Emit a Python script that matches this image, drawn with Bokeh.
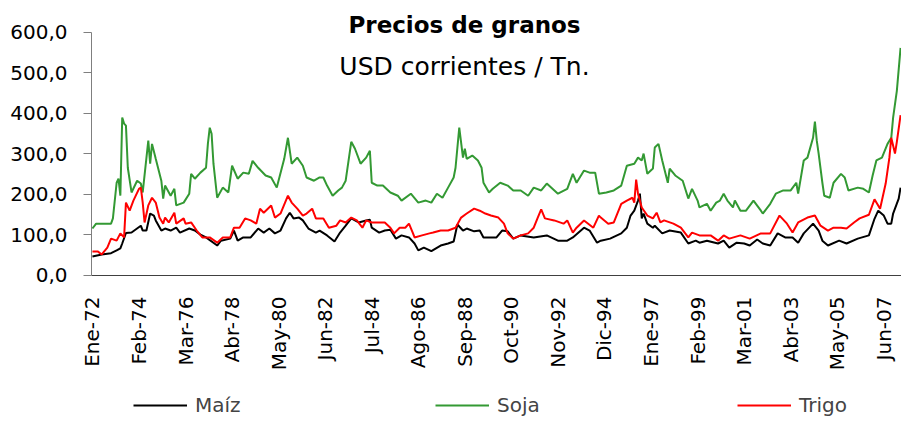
import math
from bokeh.plotting import figure
from bokeh.models import FixedTicker, Legend, LegendItem, Label, Range1d
from bokeh.embed import file_html
from bokeh.resources import INLINE

FONT = "DejaVu Sans"

# ---- axis ticks (x = months since Ene-72) ----
tick_months = [0, 25, 50, 75, 100, 125, 150, 175, 200, 225, 250, 275, 300, 325, 350, 375, 400, 425]
tick_labels = ["Ene-72", "Feb-74", "Mar-76", "Abr-78", "May-80", "Jun-82", "Jul-84", "Ago-86", "Sep-88",
               "Oct-90", "Nov-92", "Dic-94", "Ene-97", "Feb-99", "Mar-01", "Abr-03", "May-05", "Jun-07"]
y_ticks = [0, 100, 200, 300, 400, 500, 600]
y_labels = ["0,0", "100,0", "200,0", "300,0", "400,0", "500,0", "600,0"]
n_months = 435  # Ene-72 .. Mar-08

# ---- Maíz ----
maiz_m = [0, 5, 10, 13, 15, 16, 18, 21, 26, 27,
          29, 31, 33, 34, 37, 39, 42, 45, 47, 52,
          55, 58, 61, 67, 69, 74, 76, 78, 81, 85,
          89, 92, 95, 98, 101, 104, 106, 108, 111, 113,
          116, 120, 122, 126, 130, 133, 136, 139, 143, 147,
          149, 150, 154, 157, 160, 163, 166, 170, 173, 175,
          178, 182, 187, 191, 194, 196, 199, 201, 205, 208,
          210, 217, 220, 223, 226, 230, 237, 244, 250, 255,
          258, 264, 267, 271, 273, 278, 284, 287, 289, 291,
          293, 294, 295, 296, 298, 301, 302, 306, 310, 316,
          320, 324, 326, 330, 336, 339, 342, 346, 350, 353,
          357, 360, 364, 368, 372, 376, 379, 382, 387, 390,
          392, 395, 401, 405, 411, 417, 420, 422, 425, 427,
          429, 430, 433, 434]
maiz_v = [47, 52, 55, 62, 67, 79, 105, 106, 123, 111,
          111, 153, 148, 136, 111, 116, 111, 118, 106, 116,
          111, 101, 94, 74, 86, 91, 111, 86, 94, 94,
          116, 106, 116, 104, 111, 141, 155, 141, 143, 136,
          116, 106, 111, 99, 84, 106, 123, 141, 131, 136,
          138, 118, 106, 111, 113, 91, 99, 94, 79, 62,
          69, 60, 74, 79, 84, 126, 111, 116, 109, 111,
          94, 94, 111, 109, 91, 99, 94, 99, 86, 86,
          94, 118, 111, 81, 86, 91, 104, 118, 148, 160,
          185, 202, 141, 153, 128, 118, 123, 104, 111, 106,
          79, 86, 81, 86, 79, 86, 69, 81, 79, 74,
          89, 79, 74, 104, 94, 94, 81, 104, 128, 111,
          86, 74, 86, 79, 91, 99, 140, 160, 148, 128,
          128, 153, 190, 217]

# ---- Soja ----
soja_m = [0, 2, 10, 11, 13, 14, 15, 16, 17, 18,
          19, 21, 24, 26, 27, 30, 31, 32, 34, 37,
          38, 39, 42, 44, 45, 49, 52, 53, 55, 58,
          61, 62, 63, 64, 65, 67, 70, 73, 75, 78,
          81, 84, 86, 89, 93, 96, 99, 103, 105, 107,
          110, 113, 115, 119, 122, 124, 126, 129, 132, 134,
          136, 139, 141, 144, 147, 149, 150, 153, 156, 160,
          164, 166, 171, 175, 179, 182, 185, 188, 191, 194,
          195, 197, 199, 200, 201, 204, 207, 209, 210, 213,
          215, 219, 223, 226, 230, 234, 237, 241, 244, 250,
          255, 258, 260, 264, 267, 270, 272, 276, 280, 284,
          287, 291, 293, 295, 296, 298, 301, 302, 304, 306,
          309, 310, 313, 317, 320, 322, 325, 326, 330, 332,
          335, 337, 339, 341, 344, 345, 348, 351, 355, 359,
          360, 364, 367, 371, 375, 378, 379, 382, 384, 387,
          388, 389, 390, 392, 393, 396, 398, 402, 404, 406,
          411, 414, 417, 419, 421, 424, 427, 429, 430, 432,
          434]
soja_v = [116, 128, 128, 141, 229, 239, 197, 390, 375, 370,
          266, 205, 234, 227, 205, 333, 276, 325, 288, 234,
          190, 222, 197, 214, 173, 180, 202, 251, 239, 254,
          266, 325, 365, 350, 276, 192, 217, 205, 271, 239,
          254, 251, 283, 266, 247, 242, 217, 288, 340, 276,
          291, 271, 242, 234, 242, 242, 222, 197, 210, 217,
          234, 330, 313, 276, 291, 308, 229, 222, 222, 205,
          197, 185, 202, 180, 185, 180, 202, 192, 217, 242,
          266, 365, 291, 313, 288, 296, 284, 266, 229, 205,
          214, 229, 222, 210, 210, 197, 217, 210, 227, 202,
          214, 251, 229, 259, 254, 254, 202, 205, 210, 222,
          271, 276, 291, 284, 301, 251, 264, 316, 325, 284,
          229, 264, 247, 234, 190, 214, 185, 168, 177, 160,
          180, 185, 202, 185, 168, 185, 160, 160, 185, 160,
          153, 177, 202, 210, 210, 229, 202, 284, 291, 340,
          380, 333, 301, 229, 197, 192, 229, 251, 242, 210,
          217, 214, 205, 247, 284, 291, 325, 340, 390, 456,
          562]

# ---- Trigo ----
trigo_m = [0, 3, 5, 8, 10, 13, 15, 17, 18, 20,
           22, 25, 26, 27, 28, 30, 32, 34, 36, 38,
           39, 41, 44, 45, 49, 50, 53, 56, 59, 63,
           67, 70, 74, 76, 79, 82, 85, 88, 90, 92,
           96, 98, 101, 105, 107, 110, 113, 115, 118, 120,
           124, 127, 131, 133, 136, 139, 142, 145, 147, 150,
           154, 157, 160, 162, 165, 168, 170, 172, 173, 177,
           181, 183, 187, 191, 195, 198, 201, 205, 208, 211,
           214, 218, 221, 223, 226, 230, 234, 237, 239, 241,
           243, 248, 253, 255, 258, 260, 264, 269, 272, 273,
           277, 280, 284, 287, 290, 291, 292, 293, 295, 298,
           301, 303, 305, 307, 312, 316, 320, 322, 326, 332,
           336, 339, 342, 348, 353, 359, 364, 369, 373, 376,
           379, 384, 388, 391, 395, 398, 402, 405, 409, 412,
           417, 420, 423, 426, 428, 429, 431, 432, 434]
trigo_v = [59, 59, 52, 69, 91, 86, 104, 94, 180, 160,
           185, 214, 217, 180, 131, 173, 192, 180, 143, 128,
           143, 131, 155, 128, 141, 128, 131, 111, 94, 94,
           81, 94, 94, 118, 118, 141, 136, 128, 165, 155,
           173, 143, 153, 197, 180, 165, 148, 153, 165, 141,
           141, 118, 123, 136, 131, 143, 136, 118, 136, 131,
           131, 131, 118, 104, 118, 118, 128, 106, 94, 99,
           104, 106, 111, 111, 118, 143, 153, 165, 160, 153,
           148, 143, 128, 104, 91, 99, 104, 118, 141, 163,
           141, 136, 128, 136, 106, 118, 136, 118, 148, 143,
           128, 131, 177, 185, 192, 180, 237, 202, 168, 148,
           141, 155, 131, 136, 128, 118, 94, 106, 99, 99,
           86, 99, 91, 99, 91, 104, 104, 148, 128, 106,
           131, 143, 148, 123, 111, 118, 118, 116, 131, 141,
           150, 188, 165, 227, 291, 340, 301, 330, 396]

# frame covers the whole canvas; plot area x 91..901 (months -0.5..434.5),
# value 600 at y=32 and value 0 at y=275
px_per_month = 810.0 / n_months
x_left = -0.5 - 91.0 / px_per_month
p = figure(width=901, height=421, output_backend="svg", toolbar_location=None,
           x_range=Range1d(x_left, n_months - 0.5), y_range=Range1d(-360.5, 679),
           min_border_left=0, min_border_right=0, min_border_top=0, min_border_bottom=0)
p.outline_line_color = None
p.grid.visible = False

r_maiz = p.line(maiz_m, maiz_v, line_color="black", line_width=2)
r_soja = p.line(soja_m, soja_v, line_color="#339933", line_width=2)
r_trigo = p.line(trigo_m, trigo_v, line_color="#ff0000", line_width=2)

# y axis, drawn at the left edge of the category area
yax = p.yaxis[0]
yax.fixed_location = -0.5
yax.ticker = FixedTicker(ticks=y_ticks)
yax.bounds = (0, 600)
yax.major_label_overrides = dict(zip(y_ticks, y_labels))
yax.minor_tick_line_color = None
yax.major_tick_out = 8
yax.major_tick_in = 0
yax.axis_line_color = "#7f7f7f"
yax.major_tick_line_color = "#7f7f7f"
yax.major_label_text_font = FONT
yax.major_label_text_font_size = "20px"
yax.major_label_text_color = "black"
yax.major_label_standoff = 16

# x axis, drawn at value 0
xax = p.xaxis[0]
xax.fixed_location = 0
xax.bounds = (-0.5, n_months - 0.5)
xax.ticker = FixedTicker(ticks=tick_months)
xax.major_label_overrides = dict(zip(tick_months, tick_labels))
xax.major_label_orientation = math.pi / 2
xax.minor_tick_line_color = None
xax.major_tick_out = 0
xax.major_tick_in = 0
xax.axis_line_color = "#404040"
xax.major_label_text_font = FONT
xax.major_label_text_font_size = "20px"
xax.major_label_text_color = "black"
xax.major_label_standoff = 21

# titles
p.add_layout(Label(x=199.8, y=619.5, text="Precios de granos", text_font=FONT,
                   text_font_style="bold", text_font_size="23px", text_align="center",
                   text_baseline="alphabetic", text_color="black"))
p.add_layout(Label(x=199.8, y=516, text="USD corrientes / Tn.", text_font=FONT,
                   text_font_size="25px", text_align="center",
                   text_baseline="alphabetic", text_color="black"))

legend = Legend(items=[LegendItem(label="Maíz", renderers=[r_maiz]),
                       LegendItem(label="Soja", renderers=[r_soja]),
                       LegendItem(label="Trigo", renderers=[r_trigo])],
                orientation="horizontal", location=(133, 4),
                glyph_width=54, glyph_height=16, label_height=16, label_width=240,
                label_standoff=8, spacing=0, padding=0, margin=0,
                border_line_color=None, background_fill_alpha=0,
                label_text_font=FONT, label_text_font_size="20px")
p.add_layout(legend)

open("out.html", "w").write(file_html(p, INLINE))
